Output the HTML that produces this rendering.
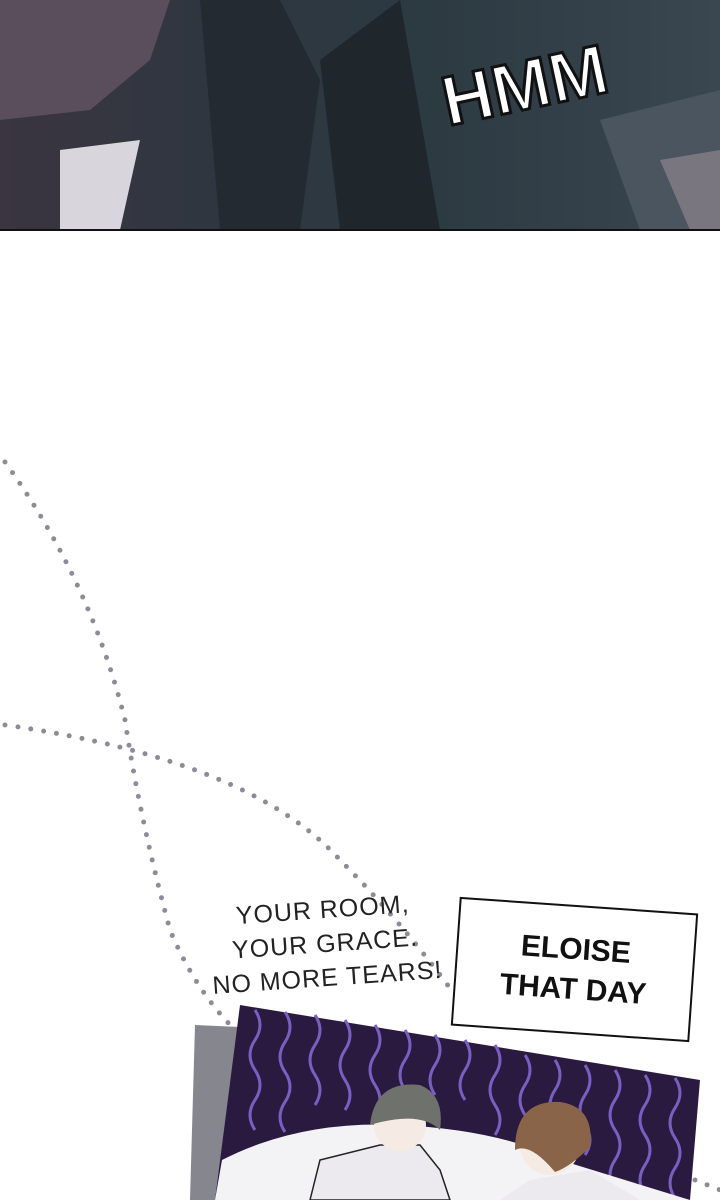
<!DOCTYPE html>
<html><head><style>
body{margin:0;width:720px;height:1200px;overflow:hidden;background:#fff;position:relative;font-family:"Liberation Sans",sans-serif}
.abs{position:absolute}
</style></head><body>
<div class="abs" style="left:0;top:0;width:720px;height:230px;background:linear-gradient(90deg,#3a3540 0%,#2f3640 30%,#2c3a42 60%,#3a4650 100%)"></div>
<svg class="abs" style="left:0;top:0" width="720" height="232">
<path d="M0 0 L170 0 L150 60 L90 110 L0 120Z" fill="#5a4d5c"/>
<path d="M60 150 L140 140 L120 230 L60 230Z" fill="#d8d6dc"/>
<path d="M200 0 L280 0 L320 80 L300 230 L220 230Z" fill="#232a31"/>
<path d="M320 60 L400 0 L440 230 L340 230Z" fill="#1f262c"/>
<path d="M600 120 L720 90 L720 230 L640 230Z" fill="#4b5560"/>
<path d="M660 160 L720 150 L720 230 L690 230Z" fill="#7a7680"/>
<text x="440" y="110" font-family="Liberation Sans" font-weight="bold" font-size="70" fill="#fff" stroke="#111" stroke-width="3" transform="rotate(-12 520 80)">HMM</text>
<line x1="0" y1="230" x2="720" y2="230" stroke="#111" stroke-width="2"/>
</svg>
<svg class="abs" style="left:0;top:0" width="720" height="1200">
<path d="M5 462 Q90 580 125 720 Q140 820 170 930 Q195 990 235 1030" fill="none" stroke="#8d8b98" stroke-width="5" stroke-linecap="round" stroke-dasharray="0 13"/>
<path d="M5 725 Q250 760 340 860 Q400 920 455 995" fill="none" stroke="#8d8b98" stroke-width="5" stroke-linecap="round" stroke-dasharray="0 13"/>
<path d="M695 1180 L720 1190" fill="none" stroke="#8d8b98" stroke-width="5" stroke-linecap="round" stroke-dasharray="0 13"/>
<polygon points="195,1025 240,1027 230,1200 190,1200" fill="#86868e"/>
<polygon points="240,1005 700,1080 690,1200 215,1200" fill="#2a1a40"/>
<g stroke="#7a5ec0" stroke-width="3" fill="none">
<path d="M255 1010 q10 15 0 30 q-10 15 0 30 q10 15 0 30 q-10 15 0 30"/>
<path d="M285 1012 q10 15 0 30 q-10 15 0 30 q10 15 0 30 q-10 15 0 30"/>
<path d="M315 1015 q10 15 0 30 q-10 15 0 30 q10 15 0 30"/>
<path d="M345 1020 q10 15 0 30 q-10 15 0 30 q10 15 0 30"/>
<path d="M375 1025 q10 15 0 30 q-10 15 0 30 q10 15 0 30"/>
<path d="M405 1030 q10 15 0 30 q-10 15 0 30"/>
<path d="M435 1035 q10 15 0 30 q-10 15 0 30"/>
<path d="M465 1040 q10 15 0 30 q-10 15 0 30"/>
<path d="M495 1045 q10 15 0 30 q-10 15 0 30 q10 15 0 30"/>
<path d="M525 1055 q10 15 0 30 q-10 15 0 30 q10 15 0 30"/>
<path d="M555 1060 q10 15 0 30 q-10 15 0 30 q10 15 0 30"/>
<path d="M585 1065 q10 15 0 30 q-10 15 0 30 q10 15 0 30"/>
<path d="M615 1070 q10 15 0 30 q-10 15 0 30 q10 15 0 30 q-10 15 0 30"/>
<path d="M645 1075 q10 15 0 30 q-10 15 0 30 q10 15 0 30 q-10 15 0 30"/>
<path d="M675 1078 q10 15 0 30 q-10 15 0 30 q10 15 0 30 q-10 15 0 30"/>
</g>
<path d="M222 1160 Q300 1120 400 1125 Q500 1130 560 1160 L690 1200 L215 1200Z" fill="#f3f2f4"/>
<path d="M310 1200 L320 1160 L380 1145 L420 1145 L440 1170 L450 1200Z" fill="#eceaee" stroke="#222" stroke-width="1.5"/>
<circle cx="400" cy="1125" r="26" fill="#f6ebe4"/>
<path d="M370 1125 q5 -45 50 -40 q25 10 20 45 q-20 -20 -70 -5z" fill="#6f716c"/>
<path d="M500 1200 L530 1180 L590 1170 L640 1200Z" fill="#eceaee"/>
<circle cx="550" cy="1145" r="30" fill="#f6ebe4"/>
<path d="M515 1150 q0 -50 45 -48 q35 5 30 45 q-20 20 -35 25 q-25 -30 -40 -22z" fill="#8a6448"/>
</svg>
<div class="abs" style="left:200px;top:893px;width:250px;transform:rotate(-4deg);font-size:25px;line-height:34px;letter-spacing:1px;text-align:center;color:#222">YOUR ROOM,<br>YOUR GRACE.<br>NO MORE TEARS!</div>
<div class="abs" style="left:455px;top:905px;width:235px;height:125px;background:#fff;border:2px solid #111;transform:rotate(4deg);display:flex;align-items:center;justify-content:center;text-align:center;font-weight:bold;font-size:30px;line-height:40px;color:#111">ELOISE<br>THAT DAY</div>
</body></html>
